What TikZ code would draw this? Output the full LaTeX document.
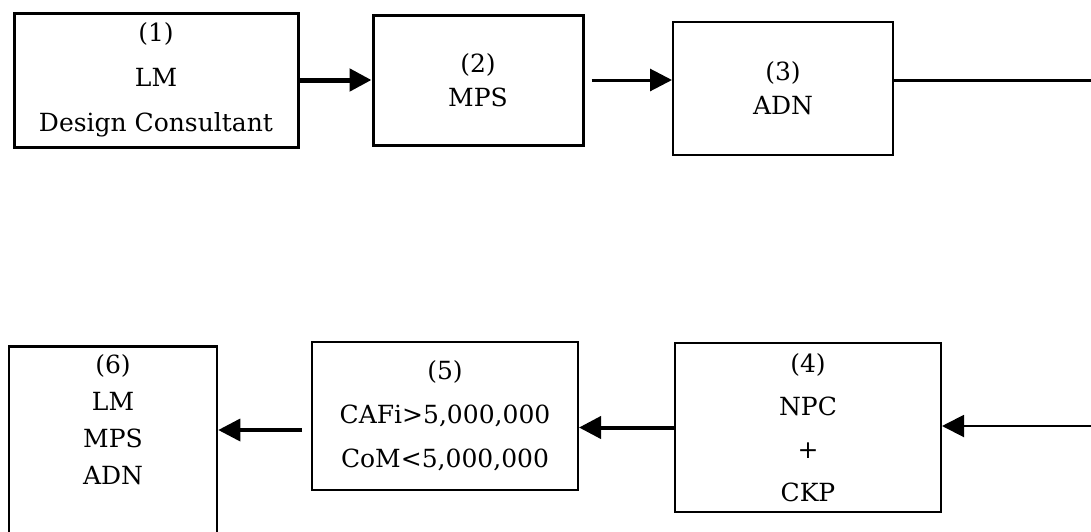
\documentclass[tikz,border=0pt]{standalone}
\usepackage{fontspec}
\setmainfont{DejaVu Serif}
\usetikzlibrary{arrows.meta}

\begin{document}
\begin{tikzpicture}[x=0.5pt,y=-0.5pt,
	stage/.style={draw,rectangle,line width=1pt,align=center,inner sep=0pt,
		font=\fontsize{12.5}{17}\selectfont},
	flow/.style={-{Triangle[length=11pt,width=11pt]},line width=1.5pt}]
	\useasboundingbox (0,0) rectangle (1091,531);
	\clip (0,0) rectangle (1091,531);
	% first row, left to right
	\node[stage,line width=1.5pt,minimum width=142pt,minimum height=67pt,
		font=\fontsize{12.5}{22.5}\selectfont] (consultant) at (156,80) {(1)\\LM\\Design Consultant};
	\node[stage,line width=1.5pt,minimum width=105pt,minimum height=65pt] (mps) at (478,80) {(2)\\MPS};
	\node[stage,minimum width=110pt,minimum height=66.5pt] (adn) at (783,88.5) {(3)\\ADN};
	\coordinate (ret1) at (1091,80);
	% second row, right to left
	\coordinate (ret2) at (1091,426);
	\node[stage,minimum width=133pt,minimum height=84.5pt,
		font=\fontsize{12.5}{21.5}\selectfont] (npc) at (808,427.5) {(4)\\NPC\\+\\CKP};
	\node[stage,minimum width=133pt,minimum height=74pt,
		font=\fontsize{12.5}{22}\selectfont] (cafi) at (445,416) {(5)\\CAFi>5,000,000\\CoM<5,000,000};
	\node[stage,line width=1.25pt,minimum width=104pt,minimum height=110pt,anchor=north] (team) at (113,345) {};
	\node[align=center,inner sep=0pt,font=\fontsize{12.5}{18.5}\selectfont] (teamtext) at (113,420) {(6)\\LM\\MPS\\ADN};

	\draw[flow,line width=2.5pt] (consultant.east) -- (mps.west);
	\draw[flow] ([xshift=3.5pt]mps.east) -- (mps.east -| adn.west);
	\draw[line width=1.5pt] (adn.east |- ret1) -- (ret1);
	\draw[flow,line width=1pt] (ret2) -- (ret2 -| npc.east);
	\draw[flow,line width=2pt] (npc.west) -- (npc.west -| cafi.east);
	\draw[flow,line width=1.75pt] ([xshift=-4.5pt,yshift=-7pt]cafi.west) -- ([yshift=-7pt]cafi.west -| team.east);
\end{tikzpicture}
\end{document}
